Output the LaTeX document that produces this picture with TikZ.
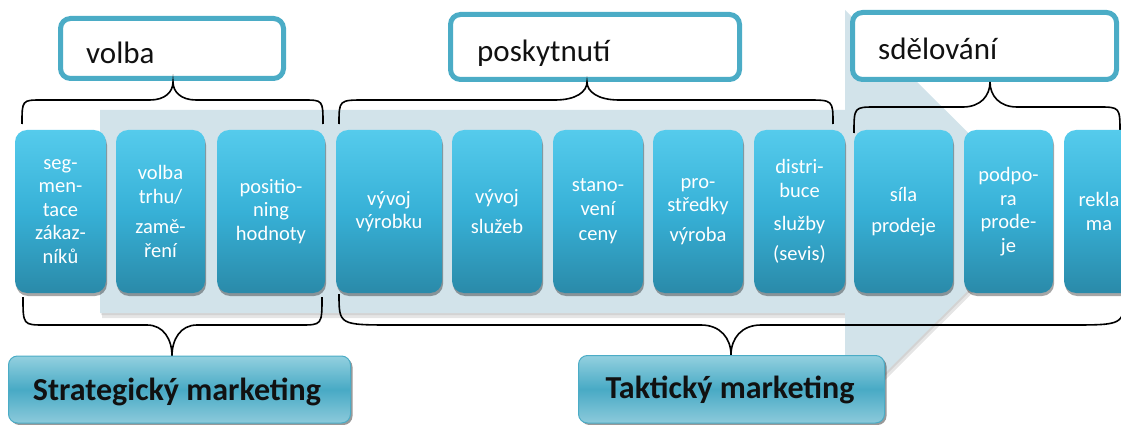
\documentclass[tikz,border=0pt]{standalone}
\usepackage{fontspec}
\setmainfont{Carlito}
\usetikzlibrary{shadows}

\definecolor{arrowbg}{HTML}{D2E3EA}
\definecolor{frameteal}{HTML}{4BACC6}
\definecolor{cyantop}{HTML}{55CBEC}
\definecolor{cyanmid}{HTML}{37B1D7}
\definecolor{cyanbot}{HTML}{2A8AA9}
\definecolor{tiertop}{HTML}{93D0DF}
\definecolor{tiermid}{HTML}{48AAC5}
\definecolor{tierbot}{HTML}{8CCADB}
\definecolor{inkblack}{HTML}{111111}

% box spanning (x1,y1)-(x2,y2): style, name, x1, y1, x2, y2, text
\newcommand{\boxat}[7]{%
  \node[#1, minimum width={(#5-#3)*1pt}, minimum height={(#6-#4)*1pt}]
    (#2) at ({(#3+#5)/2},{(#4+#6)/2}) {#7};}

% curly brace: xl, xr, xc, yend, yline, ytip, end radius, tip span
\newcommand{\groupbrace}[8]{%
  \draw[bracestyle] (#1,#4) .. controls (#1,#5) .. ({#1+#7},#5)
    -- ({#3-#8},#5) .. controls ({#3-0.35*#8},#5) and (#3,{#5+0.45*(#6-#5)}) .. (#3,#6)
    .. controls (#3,{#5+0.45*(#6-#5)}) and ({#3+0.35*#8},#5) .. ({#3+#8},#5)
    -- ({#2-#7},#5) .. controls (#2,#5) .. (#2,#4);}

\tikzset{
  stage/.style={rounded corners=12pt, top color=cyantop, bottom color=cyanbot,
    middle color=cyanmid, draw=none, text=white, align=center, inner sep=0pt,
    font=\fontsize{20.5}{23.5}\selectfont,
    drop shadow={shadow xshift=1pt, shadow yshift=-3pt, opacity=0.35, fill=black}},
  frame/.style={draw=frameteal, line width=5pt, fill=white, rounded corners=10pt,
    inner sep=0pt},
  frametext/.style={anchor=base west, inner sep=0pt, text=inkblack,
    font=\fontsize{31}{36}\selectfont},
  tier/.style={rounded corners=9pt, top color=tiertop, bottom color=tierbot,
    middle color=tiermid, draw=frameteal, line width=1pt, inner sep=0pt,
    drop shadow={shadow xshift=2pt, shadow yshift=-2pt, opacity=0.4, fill=black}},
  tiertext/.style={anchor=base, inner sep=0pt, text=inkblack,
    font=\bfseries\fontsize{32}{36}\selectfont},
  bracestyle/.style={draw=black, line width=1.6pt},
}

\begin{document}
\begin{tikzpicture}[x=1pt,y=-1pt]
\useasboundingbox (0,0) rectangle (1121,425);
\clip (0,0) rectangle (1121,425);

% large process arrow behind the stages
\begin{scope}[shift={(2,5)}]
  \fill[black, opacity=0.10] (100,110) -- (845,110) -- (845,10) -- (1047,211.5)
    -- (845,413) -- (845,313) -- (100,313) -- cycle;
\end{scope}
\begin{scope}[shift={(1,2)}]
  \fill[black, opacity=0.08] (100,110) -- (845,110) -- (845,10) -- (1047,211.5)
    -- (845,413) -- (845,313) -- (100,313) -- cycle;
\end{scope}
\fill[arrowbg] (100,110) -- (845,110) -- (845,10) -- (1047,211.5)
  -- (845,413) -- (845,313) -- (100,313) -- cycle;

% group headings
\boxat{frame}{hvolba}{60.5}{18.5}{283.5}{78.5}{}
\boxat{frame}{hposk}{450.5}{14.5}{739.5}{79.5}{}
\boxat{frame}{hsdel}{852.5}{12.5}{1116.5}{79.5}{}
\node[frametext] (tvolba) at (86,64) {volba};
\node[frametext] (tposk) at (477,62) {poskytnutí};
\node[frametext] (tsdel) at (878,60) {sdělování};

% braces grouping the stages
\groupbrace{22}{323}{173}{124}{100}{82}{20}{23}
\groupbrace{339}{833}{587}{124}{100}{82}{26}{32}
\groupbrace{854}{1120}{990}{133}{107}{82}{22}{27}
\groupbrace{23}{322}{172}{297}{325}{356}{22}{25}
\groupbrace{339}{1124}{731}{294}{325}{355}{55}{30}

% stages
\boxat{stage}{s1}{15}{130}{106}{293}{seg-\\men-\\tace\\zákaz-\\níků}
\boxat{stage}{s2}{116}{130}{205}{293}{volba\\trhu/\\[7pt]zamě-\\ření}
\boxat{stage}{s3}{217}{130}{325}{293}{positio-\\ning\\hodnoty}
\boxat{stage}{s4}{336}{130}{442}{293}{vývoj\\výrobku}
\boxat{stage}{s5}{452}{130}{542}{293}{vývoj\\[7pt]služeb}
\boxat{stage}{s6}{553}{130}{643}{293}{stano-\\vení\\[2pt]ceny}
\boxat{stage}{s7}{653}{130}{743}{293}{pro-\\středky\\[6pt]výroba}
\boxat{stage}{s8}{754}{130}{845}{293}{distri-\\buce\\[10pt]služby\\[6pt](sevis)}
\boxat{stage}{s9}{854}{130}{953}{293}{síla\\[8pt]prodeje}
\boxat{stage}{s10}{964}{130}{1053}{293}{podpo-\\ra\\prode-\\je}
\boxat{stage}{s11}{1064}{130}{1134}{293}{rekla\\ma}

% marketing levels
\boxat{tier}{strat}{8.5}{356}{350.5}{423}{}
\boxat{tier}{takt}{578.5}{355.5}{884.5}{423}{}
\node[tiertext] (tstrat) at (177,400) {Strategický marketing};
\node[tiertext] (ttakt) at (730,398) {Taktický marketing};
\end{tikzpicture}
\end{document}
